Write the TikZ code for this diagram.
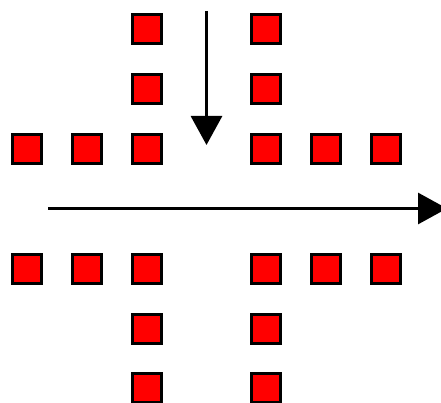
\documentclass[tikz,border=0pt]{standalone}
\usetikzlibrary{arrows.meta}
\begin{document}
\begin{tikzpicture}[x=1pt,y=-1pt,
  sq/.style={draw=black,fill=red,line width=3pt,minimum size=29pt,inner sep=0pt,rectangle},
  bigarrow/.style={line width=3pt,-{Triangle[width=31pt,length=29pt]}}]
\useasboundingbox (0,0) rectangle (441,403);
% top-left arm
\node[sq] (a1) at (146.5,29) {};
\node[sq] (a2) at (146.5,89) {};
\node[sq] (a3) at (146.5,149) {};
\node[sq] (a4) at (87,149) {};
\node[sq] (a5) at (27,149) {};
% top-right arm
\node[sq] (b1) at (266,29) {};
\node[sq] (b2) at (266,89) {};
\node[sq] (b3) at (266,149) {};
\node[sq] (b4) at (325.5,149) {};
\node[sq] (b5) at (385.5,149) {};
% bottom-left arm
\node[sq] (c1) at (27,269) {};
\node[sq] (c2) at (87,269) {};
\node[sq] (c3) at (146.5,269) {};
\node[sq] (c4) at (146.5,328.5) {};
\node[sq] (c5) at (146.5,388) {};
% bottom-right arm
\node[sq] (d1) at (266,269) {};
\node[sq] (d2) at (325.5,269) {};
\node[sq] (d3) at (385.5,269) {};
\node[sq] (d4) at (266,328.5) {};
\node[sq] (d5) at (266,388) {};
% arrows
\coordinate (vs) at (206.5,11);
\coordinate (ve) at (206.5,145);
\coordinate (hs) at (48,208.5);
\coordinate (he) at (447,208.5);
\draw[bigarrow] (vs) -- (ve);
\draw[bigarrow] (hs) -- (he);
\end{tikzpicture}
\end{document}
